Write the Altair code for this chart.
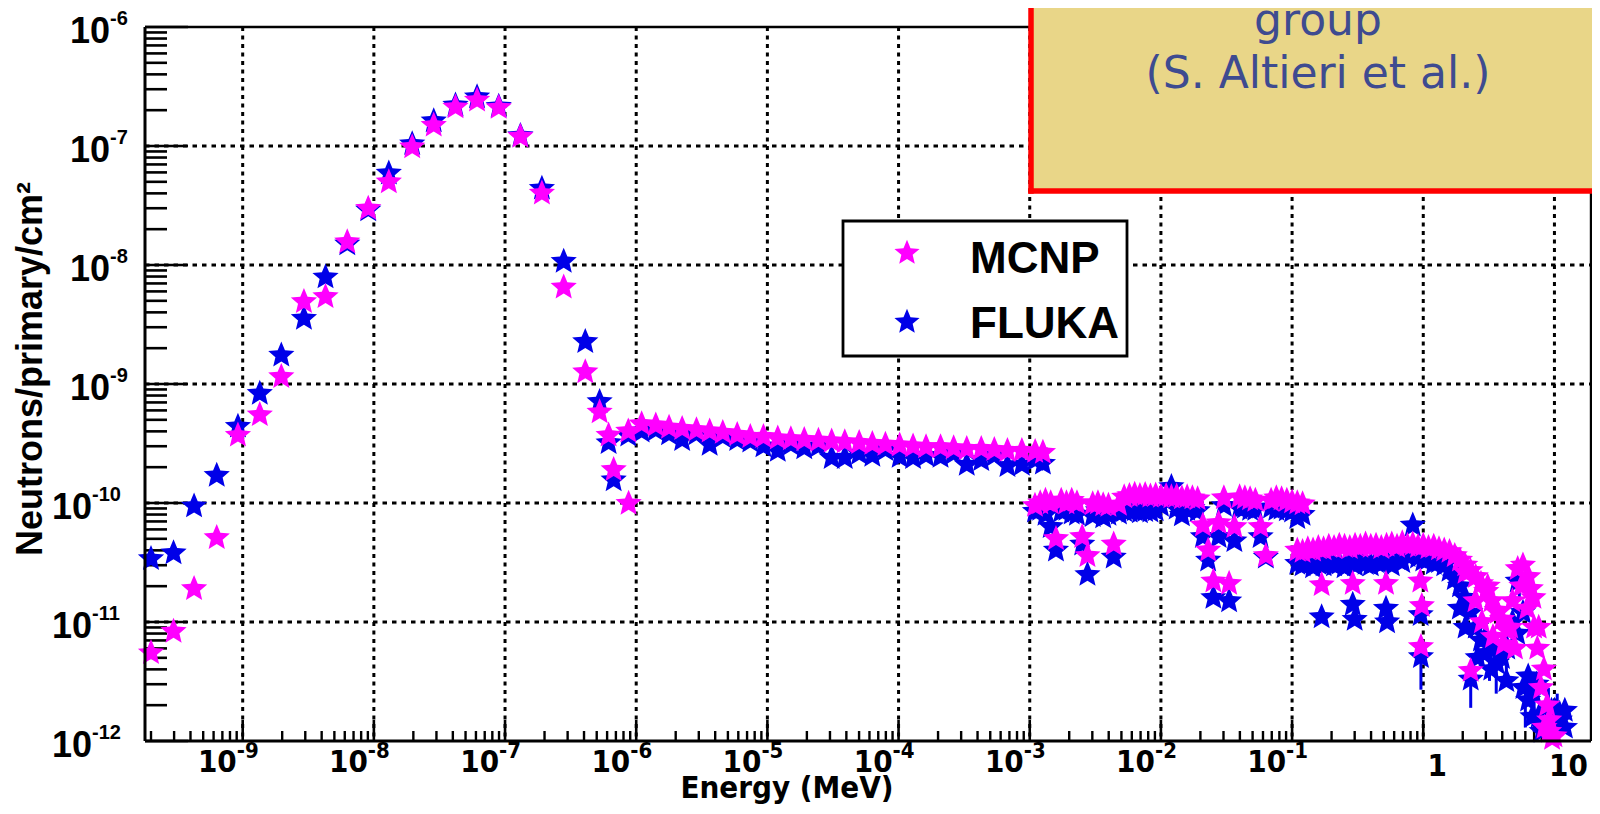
import altair as alt
import pandas as pd

# ---------------- data ----------------
# thermal peak (both codes share the bins)
thermal_E = [2.0e-10, 2.97e-10, 4.26e-10, 6.34e-10, 9.2e-10, 1.35e-9, 1.97e-9, 2.93e-9, 4.28e-9,
             6.27e-9, 9.06e-9, 1.3e-8, 1.96e-8, 2.86e-8, 4.19e-8, 6.12e-8, 8.95e-8, 1.31e-7,
             1.91e-7, 2.8e-7, 4.09e-7]
thermal_mcnp = [5.5e-12, 8.3e-12, 1.9e-11, 5.1e-11, 3.7e-10, 5.5e-10, 1.15e-9, 4.9e-9, 5.4e-9,
                1.56e-8, 2.98e-8, 4.98e-8, 9.8e-8, 1.49e-7, 2.12e-7, 2.42e-7, 2.1e-7, 1.2e-7,
                4.0e-8, 6.5e-9, 1.26e-9]
thermal_fluka = [3.4e-11, 3.8e-11, 9.4e-11, 1.7e-10, 4.4e-10, 8.3e-10, 1.74e-9, 3.55e-9, 7.9e-9,
                 1.5e-8, 2.9e-8, 5.9e-8, 1.04e-7, 1.62e-7, 2.2e-7, 2.58e-7, 2.15e-7, 1.22e-7,
                 4.4e-8, 1.07e-8, 2.26e-9]

# drop after the thermal peak
trans_mcnp_E = [5.26e-7, 6.16e-7, 6.73e-7, 8.75e-7]
trans_mcnp = [5.8e-10, 3.7e-10, 1.9e-10, 9.9e-11]
trans_fluka_E = [5.26e-7, 6.16e-7, 6.73e-7]
trans_fluka = [7.1e-10, 3.2e-10, 1.56e-10]

# epithermal plateau
plateau_E = [8.7e-7, 1.10e-6, 1.41e-6, 1.78e-6, 2.24e-6, 2.88e-6, 3.63e-6, 4.57e-6, 5.89e-6, 7.41e-6,
             9.33e-6, 1.20e-5, 1.51e-5, 1.91e-5, 2.45e-5, 3.09e-5, 3.89e-5, 5.01e-5, 6.31e-5, 7.94e-5,
             1.02e-4, 1.29e-4, 1.62e-4, 2.09e-4, 2.63e-4, 3.31e-4, 4.27e-4, 5.37e-4, 6.76e-4, 8.71e-4,
             1.10e-3, 1.26e-3]
plateau_mcnp = [4.0e-10, 4.6e-10, 4.5e-10, 4.3e-10, 4.2e-10, 4.1e-10, 4.0e-10, 3.9e-10, 3.75e-10, 3.6e-10,
                3.6e-10, 3.5e-10, 3.45e-10, 3.4e-10, 3.35e-10, 3.3e-10, 3.25e-10, 3.2e-10, 3.15e-10, 3.1e-10,
                3.05e-10, 3.0e-10, 2.95e-10, 2.95e-10, 2.9e-10, 2.85e-10, 2.85e-10, 2.8e-10, 2.75e-10, 2.75e-10,
                2.7e-10, 2.65e-10]
plateau_fluka = [3.7e-10, 4.0e-10, 4.1e-10, 3.8e-10, 3.4e-10, 3.8e-10, 3.1e-10, 3.6e-10, 3.4e-10, 3.3e-10,
                 3.0e-10, 2.75e-10, 3.1e-10, 2.9e-10, 3.0e-10, 2.4e-10, 2.4e-10, 2.6e-10, 2.5e-10, 2.8e-10,
                 2.45e-10, 2.4e-10, 2.5e-10, 2.45e-10, 2.6e-10, 2.1e-10, 2.3e-10, 2.5e-10, 2.05e-10, 2.1e-10,
                 2.3e-10, 2.15e-10]

# 1 keV - 0.1 MeV band
mid_E = [1.096e-3, 1.202e-3, 1.318e-3, 1.445e-3, 1.585e-3, 1.738e-3, 1.905e-3, 2.089e-3, 2.291e-3, 2.512e-3,
         2.754e-3, 3.020e-3, 3.311e-3, 3.631e-3, 3.981e-3, 4.365e-3, 4.786e-3, 5.248e-3, 5.754e-3, 6.310e-3,
         6.918e-3, 7.586e-3, 8.318e-3, 9.120e-3, 1.0e-2, 1.096e-2, 1.202e-2, 1.318e-2, 1.445e-2, 1.585e-2,
         1.738e-2, 1.905e-2, 2.089e-2, 2.291e-2, 2.512e-2, 2.754e-2, 3.020e-2, 3.311e-2, 3.631e-2, 3.981e-2,
         4.365e-2, 4.786e-2, 5.248e-2, 5.754e-2, 6.310e-2, 6.918e-2, 7.586e-2, 8.318e-2, 9.120e-2, 1.0e-1,
         1.096e-1, 1.202e-1]
mid_mcnp = [9.5e-11, 1.0e-10, 1.05e-10, 1.0e-10, 5.0e-11, 1.05e-10, 1.0e-10, 1.05e-10, 1.0e-10, 5.2e-11,
            3.6e-11, 9.8e-11, 1.0e-10, 9.6e-11, 9.5e-11, 4.5e-11, 9.7e-11, 1.12e-10, 1.15e-10, 1.18e-10,
            1.15e-10, 1.17e-10, 1.14e-10, 1.16e-10, 1.13e-10, 1.15e-10, 1.12e-10, 1.14e-10, 1.1e-10, 1.12e-10,
            1.1e-10, 1.08e-10, 6.5e-11, 4.0e-11, 2.2e-11, 6.8e-11, 1.1e-10, 2.1e-11, 6.3e-11, 1.12e-10,
            1.1e-10, 1.08e-10, 1.05e-10, 6.3e-11, 3.6e-11, 1.05e-10, 1.1e-10, 1.08e-10, 1.05e-10, 1.02e-10,
            1.0e-10, 9.8e-11]
mid_fluka = [8.5e-11, 8.8e-11, 8.0e-11, 6.3e-11, 4.0e-11, 8.5e-11, 8.8e-11, 8.2e-11, 8.0e-11, 4.5e-11,
             2.5e-11, 7.8e-11, 8.6e-11, 7.6e-11, 8.0e-11, 3.5e-11, 8.2e-11, 8.6e-11, 8.5e-11, 8.7e-11,
             8.4e-11, 8.6e-11, 8.5e-11, 8.7e-11, 9.5e-11, 1.05e-10, 1.37e-10, 9.0e-11, 7.9e-11, 8.8e-11,
             9.0e-11, 8.6e-11, 5.2e-11, 3.3e-11, 1.6e-11, 5.2e-11, 9.5e-11, 1.5e-11, 4.8e-11, 9.0e-11,
             9.2e-11, 8.8e-11, 8.8e-11, 5.2e-11, 3.5e-11, 9.2e-11, 8.8e-11, 9.0e-11, 8.7e-11, 8.5e-11,
             7.5e-11, 8.0e-11]

# 0.1 - 12 MeV band
fast_E = [0.1096, 0.1202, 0.1318, 0.1445, 0.1585, 0.1738, 0.1905, 0.2089, 0.2291, 0.2512,
          0.2754, 0.3020, 0.3311, 0.3631, 0.3981, 0.4365, 0.4786, 0.5248, 0.5754, 0.6310,
          0.6918, 0.7586, 0.8318, 0.9120, 1.0, 1.096, 1.202, 1.318, 1.445, 1.585,
          1.738, 1.905, 2.089, 2.291, 2.512, 2.754, 3.020, 3.311, 3.631, 3.981,
          4.365, 4.786, 5.248, 5.754, 6.310, 6.918, 7.586, 8.318, 9.120, 10.0,
          10.96, 12.02]
fast_mcnp = [4.0e-11, 3.9e-11, 4.1e-11, 4.0e-11, 4.2e-11, 4.1e-11, 4.3e-11, 4.2e-11, 4.4e-11, 4.3e-11,
             4.2e-11, 4.4e-11, 4.3e-11, 4.5e-11, 4.3e-11, 4.4e-11, 4.2e-11, 4.4e-11, 4.5e-11, 4.3e-11,
             4.6e-11, 4.4e-11, 4.5e-11, 4.3e-11, 4.4e-11, 4.2e-11, 4.3e-11, 4.1e-11, 4.0e-11, 3.9e-11,
             3.6e-11, 3.3e-11, 3.0e-11, 2.7e-11, 2.4e-11, 2.1e-11, 1.8e-11, 1.5e-11, 1.25e-11, 1.05e-11,
             8.5e-12, 1.5e-11, 2.8e-11, 3.0e-11, 2.4e-11, 1.6e-11, 9.0e-12, 4.0e-12, 1.5e-12, 1.1e-12]
fast_fluka = [3.1e-11, 3.0e-11, 3.2e-11, 2.9e-11, 3.1e-11, 3.0e-11, 3.2e-11, 3.0e-11, 3.1e-11, 2.9e-11,
              3.2e-11, 3.0e-11, 3.3e-11, 3.1e-11, 3.0e-11, 3.2e-11, 3.1e-11, 3.3e-11, 3.0e-11, 3.4e-11,
              3.2e-11, 3.6e-11, 6.5e-11, 3.5e-11, 3.3e-11, 3.4e-11, 3.1e-11, 3.2e-11, 3.0e-11, 2.7e-11,
              2.3e-11, 2.0e-11, 1.6e-11, 1.2e-11, 9.0e-12, 7.0e-12, 5.5e-12, 6.5e-12, 4.5e-12, 5.0e-12,
              6.0e-12, 1.0e-11, 2.2e-11, 1.2e-11, 3.5e-12, 2.5e-12, 1.6e-12, 1.3e-12, 1.5e-12, 1.8e-12,
              1.7e-12, 1.3e-12]

# single low bins among the fast band
mcnp_extra_E = [0.168, 0.29, 0.52, 0.95, 0.975, 0.96, 2.3, 2.1, 2.5, 2.8, 3.1, 3.4, 3.7, 4.1, 4.6,
                5.0, 5.6, 6.2, 6.6, 7.0, 7.4, 7.9, 8.4, 9.1, 9.6, 8.8]
mcnp_extra = [2.05e-11, 2.1e-11, 2.1e-11, 2.2e-11, 1.37e-11, 6.2e-12, 3.9e-12, 2.6e-11, 1.5e-11, 1.0e-11,
              2.0e-11, 7.5e-12, 1.2e-11, 6.5e-12, 9.0e-12, 6.0e-12, 2.0e-11, 1.3e-11, 1.9e-11, 9.0e-12,
              6.0e-12, 2.8e-12, 1.3e-12, 1.2e-12, 1.05e-12, 2.0e-12]
fluka_extra_E = [0.168, 0.29, 0.30, 0.52, 0.53, 0.955, 0.96, 2.3, 1.9, 2.1, 2.6, 3.0, 3.3, 3.8, 4.3,
                 5.2, 5.8, 6.3, 6.8, 7.3, 8.0, 9.5, 11.0, 12.0]
fluka_extra = [1.1e-11, 1.4e-11, 1.05e-11, 1.3e-11, 1.0e-11, 1.15e-11, 5.1e-12, 3.3e-12, 1.3e-11, 9.0e-12,
               5.0e-12, 7.5e-12, 4.0e-12, 5.5e-12, 3.2e-12, 8.0e-12, 2.8e-12, 2.2e-12, 1.6e-12, 3.0e-12,
               1.2e-12, 1.8e-12, 1.5e-12, 1.8e-12]

# FLUKA error bars
err_E = [0.96, 2.3, 3.2, 3.6, 4.3, 5.4, 6.0, 7.0, 9.0, 10.5]
err_lo = [2.7e-12, 1.9e-12, 3.2e-12, 2.5e-12, 3.0e-12, 1.5e-11, 1.3e-12, 1.2e-12, 1.1e-12, 1.2e-12]
err_hi = [5.1e-12, 3.3e-12, 6.5e-12, 5.5e-12, 5.0e-12, 3.2e-11, 3.0e-12, 2.2e-12, 2.8e-12, 2.5e-12]

# axis structure
x_decades = [1e-9, 1e-8, 1e-7, 1e-6, 1e-5, 1e-4, 1e-3, 1e-2, 1e-1, 1, 10]
x_minor_decades = [1e-10, 1e-9, 1e-8, 1e-7, 1e-6, 1e-5, 1e-4, 1e-3, 1e-2, 1e-1, 1]
y_decades = [1e-12, 1e-11, 1e-10, 1e-9, 1e-8, 1e-7, 1e-6]
minor_mult = [2, 3, 4, 5, 6, 7, 8, 9]
x_exp_vals = [1e-9, 1e-8, 1e-7, 1e-6, 1e-5, 1e-4, 1e-3, 1e-2, 1e-1]
x_exp_text = ["-9", "-8", "-7", "-6", "-5", "-4", "-3", "-2", "-1"]
x_plain_vals = [1, 10]
x_plain_text = ["1", "10"]
y_exp1_vals = [1e-6, 1e-7, 1e-8, 1e-9]
y_exp1_text = ["-6", "-7", "-8", "-9"]
y_exp2_vals = [1e-10, 1e-11, 1e-12]
y_exp2_text = ["-10", "-11", "-12"]

# ---------------- tables ----------------
mcnp_df = pd.DataFrame({
    "E": thermal_E + trans_mcnp_E + plateau_E + mid_E + fast_E[:len(fast_mcnp)] + mcnp_extra_E,
    "v": thermal_mcnp + trans_mcnp + plateau_mcnp + mid_mcnp + fast_mcnp + mcnp_extra,
})
fluka_df = pd.DataFrame({
    "E": thermal_E + trans_fluka_E + plateau_E + mid_E + fast_E + fluka_extra_E,
    "v": thermal_fluka + trans_fluka + plateau_fluka + mid_fluka + fast_fluka + fluka_extra,
})
err_df = pd.DataFrame({"E": err_E, "lo": err_lo, "hi": err_hi})

x_minor = [m * d for d in x_minor_decades for m in minor_mult if 1.8e-10 <= m * d <= 19]
y_minor = [m * d for d in y_decades[:-1] for m in minor_mult]

W, H = 1446, 714
xs = alt.Scale(type="log", domain=[1.8e-10, 19], nice=False)
ys = alt.Scale(type="log", domain=[1e-12, 1e-6], nice=False)
STAR = ("M0,-1L0.265,-0.364L0.951,-0.309L0.428,0.139L0.588,0.809L0,0.45"
        "L-0.588,0.809L-0.428,0.139L-0.951,-0.309L-0.265,-0.364Z")
MAG = "#ff00ff"
BLU = "#0000e8"
FONT = "Liberation Sans, Arial, Helvetica, sans-serif"
NARROW = "Liberation Sans Narrow, Arial Narrow, DejaVu Sans Condensed, Liberation Sans, sans-serif"
one = pd.DataFrame({"a": [0]})

def X(f):
    return alt.X(f, type="quantitative", scale=xs, axis=None)

def Y(f):
    return alt.Y(f, type="quantitative", scale=ys, axis=None)

# grid
grid_v = alt.Chart(pd.DataFrame({"e": x_decades})).mark_rule(
    color="black", strokeWidth=3, strokeDash=[4, 4.5]).encode(x=X("e"), y=alt.value(0), y2=alt.value(H))
grid_h = alt.Chart(pd.DataFrame({"v": y_decades[1:-1]})).mark_rule(
    color="black", strokeWidth=3, strokeDash=[4.5, 5]).encode(y=Y("v"), x=alt.value(0), x2=alt.value(W))

# ticks
ytick_maj = alt.Chart(pd.DataFrame({"v": y_decades})).mark_rule(color="black", strokeWidth=2.6).encode(
    y=Y("v"), x=alt.value(0), x2=alt.value(43))
ytick_min = alt.Chart(pd.DataFrame({"v": y_minor})).mark_rule(color="black", strokeWidth=2.6).encode(
    y=Y("v"), x=alt.value(0), x2=alt.value(22))
xtick_maj = alt.Chart(pd.DataFrame({"e": x_decades})).mark_rule(color="black", strokeWidth=2.6).encode(
    x=X("e"), y=alt.value(H), y2=alt.value(H - 21))
xtick_min = alt.Chart(pd.DataFrame({"e": x_minor})).mark_rule(color="black", strokeWidth=2.4).encode(
    x=X("e"), y=alt.value(H), y2=alt.value(H - 10))

# frame
frame_l = alt.Chart(one).mark_rule(color="black", strokeWidth=3).encode(
    x=alt.value(0), y=alt.value(0), y2=alt.value(H))
frame_b = alt.Chart(one).mark_rule(color="black", strokeWidth=3).encode(
    y=alt.value(H), x=alt.value(0), x2=alt.value(W))
frame_t = alt.Chart(one).mark_rule(color="black", strokeWidth=2.4).encode(
    y=alt.value(0), x=alt.value(0), x2=alt.value(W))
frame_r = alt.Chart(one).mark_rule(color="black", strokeWidth=2.4).encode(
    x=alt.value(W), y=alt.value(0), y2=alt.value(H))

# data
errs = alt.Chart(err_df).mark_rule(color=BLU, strokeWidth=3).encode(x=X("E"), y=Y("lo"), y2=alt.Y2("hi"))
fluka_pts = alt.Chart(fluka_df).mark_point(shape=STAR, filled=True, size=760, opacity=1, color=BLU).encode(
    x=X("E"), y=Y("v"))
mcnp_pts = alt.Chart(mcnp_df).mark_point(shape=STAR, filled=True, size=760, opacity=1, color=MAG).encode(
    x=X("E"), y=Y("v"))

# axis labels
ylab1_base = alt.Chart(pd.DataFrame({"v": y_exp1_vals})).mark_text(
    text="10", align="right", baseline="alphabetic", dy=16, font=FONT, fontSize=36, fontWeight="bold").encode(
    y=Y("v"), x=alt.value(-35))
ylab1_exp = alt.Chart(pd.DataFrame({"v": y_exp1_vals, "t": y_exp1_text})).mark_text(
    align="left", baseline="alphabetic", dy=-2, font=FONT, fontSize=20, fontWeight="bold").encode(
    y=Y("v"), x=alt.value(-35), text="t:N")
ylab2_base = alt.Chart(pd.DataFrame({"v": y_exp2_vals})).mark_text(
    text="10", align="right", baseline="alphabetic", dy=16, font=FONT, fontSize=36, fontWeight="bold").encode(
    y=Y("v"), x=alt.value(-53))
ylab2_exp = alt.Chart(pd.DataFrame({"v": y_exp2_vals, "t": y_exp2_text})).mark_text(
    align="left", baseline="alphabetic", dy=-2, font=FONT, fontSize=20, fontWeight="bold").encode(
    y=Y("v"), x=alt.value(-53), text="t:N")

xlab_base = alt.Chart(pd.DataFrame({"e": x_exp_vals})).mark_text(
    text="10", align="right", baseline="alphabetic", dx=-6, font=NARROW, fontSize=31, fontWeight="bold").encode(
    x=X("e"), y=alt.value(H + 31))
xlab_exp = alt.Chart(pd.DataFrame({"e": x_exp_vals, "t": x_exp_text})).mark_text(
    align="left", baseline="alphabetic", dx=-6, font=NARROW, fontSize=22, fontWeight="bold").encode(
    x=X("e"), y=alt.value(H + 17), text="t:N")
xlab_plain = alt.Chart(pd.DataFrame({"e": x_plain_vals, "t": x_plain_text})).mark_text(
    align="center", baseline="alphabetic", dx=14, font=NARROW, fontSize=31, fontWeight="bold").encode(
    x=X("e"), y=alt.value(H + 35), text="t:N")

x_title = alt.Chart(one).mark_text(
    text="Energy (MeV)", align="center", baseline="alphabetic", font=NARROW, fontSize=31,
    fontWeight="bold").encode(x=alt.value(642), y=alt.value(H + 57))
y_title = alt.Chart(one).mark_text(
    text="Neutrons/primary/cm\u00b2", align="center", baseline="alphabetic", angle=270, font=FONT,
    fontSize=36, fontWeight="bold").encode(x=alt.value(-103), y=alt.value(342))

# legend
leg_box = alt.Chart(one).mark_rect(fill="white", stroke="black", strokeWidth=2.8).encode(
    x=alt.value(698), x2=alt.value(982), y=alt.value(194), y2=alt.value(329))
leg_m = alt.Chart(one).mark_point(shape=STAR, filled=True, size=700, opacity=1, color=MAG).encode(
    x=alt.value(762), y=alt.value(226))
leg_f = alt.Chart(one).mark_point(shape=STAR, filled=True, size=700, opacity=1, color=BLU).encode(
    x=alt.value(762), y=alt.value(295))
leg_mt = alt.Chart(one).mark_text(text="MCNP", align="left", baseline="alphabetic", font=FONT,
                                  fontSize=44, fontWeight="bold", color="black").encode(
    x=alt.value(825), y=alt.value(246))
leg_ft = alt.Chart(one).mark_text(text="FLUKA", align="left", baseline="alphabetic", font=FONT,
                                  fontSize=44, fontWeight="bold", color="black").encode(
    x=alt.value(825), y=alt.value(311))

# annotation box (open to the top and right edges of the picture)
note_box = alt.Chart(one).mark_rect(fill="#e9d688").encode(
    x=alt.value(886), x2=alt.value(W + 1), y=alt.value(-60), y2=alt.value(164))
note_left = alt.Chart(one).mark_rule(color="#ff0000", strokeWidth=5.5).encode(
    x=alt.value(886), y=alt.value(-60), y2=alt.value(166.7))
note_bottom = alt.Chart(one).mark_rule(color="#ff0000", strokeWidth=5.5).encode(
    y=alt.value(164), x=alt.value(883.3), x2=alt.value(W + 1))
NOTE_FONT = "DejaVu Sans, Verdana, sans-serif"
note_t1 = alt.Chart(one).mark_text(text="group", align="center", baseline="alphabetic", font=NOTE_FONT,
                                   fontSize=44, color="#3e4b90").encode(x=alt.value(1173), y=alt.value(8))
note_t2 = alt.Chart(one).mark_text(text="(S. Altieri et al.)", align="center", baseline="alphabetic",
                                   font=NOTE_FONT, fontSize=44, color="#3e4b90").encode(
    x=alt.value(1173), y=alt.value(61))

chart = alt.layer(
    grid_v, grid_h, ytick_min, ytick_maj, xtick_min, xtick_maj,
    errs, fluka_pts, mcnp_pts,
    frame_l, frame_b, frame_t, frame_r,
    ylab1_base, ylab1_exp, ylab2_base, ylab2_exp, xlab_base, xlab_exp, xlab_plain,
    x_title, y_title,
    leg_box, leg_m, leg_f, leg_mt, leg_ft,
    note_box, note_left, note_bottom, note_t1, note_t2,
).properties(
    width=W, height=H,
    padding={"left": 137, "top": 19, "right": 1, "bottom": 63},
    autosize=alt.AutoSizeParams(type="none"),
    background="white",
).configure_view(stroke=None)

chart.save("out.html", embed_options={"renderer": "svg", "actions": False})
